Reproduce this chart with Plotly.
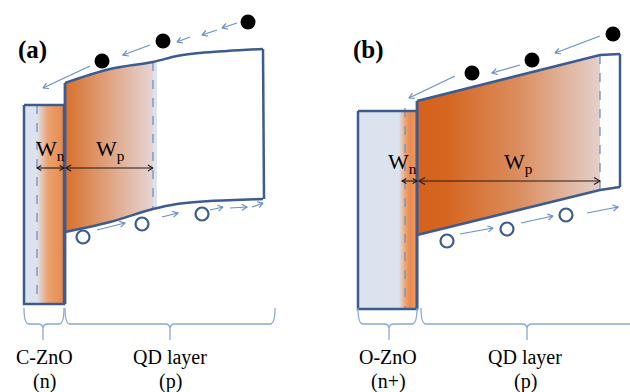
import numpy as np
import plotly.graph_objects as go

W, H = 630, 392

# ---------------- panel (a): C-ZnO (n) | QD layer (p) ----------------
a_tag = ("(a)", 32, 50)
a_zno_box = (24, 64, 105, 304)            # left, right, top, bottom
a_zno_depl_x = 37                          # depletion edge inside ZnO
a_cb_x = [65, 110, 153, 177, 200, 227, 263]
a_cb_y = [83, 69, 62, 56, 53, 51, 49]
a_vb_x = [65, 110, 153, 177, 210, 263]
a_vb_y = [232, 222, 209, 204, 201, 199]
a_right_x = 263
a_wp_x = 153                               # depletion edge inside QD layer
a_electrons_x = [102, 163, 248]
a_electrons_y = [61, 41, 22]
a_holes_x = [83, 142, 202]
a_holes_y = [237, 224, 214]
a_e_arrows = [(90, 66, 43, 88), (150, 45, 123, 55), (190, 37, 177, 42),
              (217, 30, 202, 35), (237, 23, 222, 28)]
a_h_arrows = [(97, 230, 125, 223), (162, 217, 178, 213), (210, 210, 223, 207),
              (230, 208, 247, 207), (252, 207, 263, 203)]
a_width_y = 168
a_braces = [(24, 64, 43), (65, 275, 170)]
a_labels = [("C-ZnO", 44, 357), ("(n)", 44, 381),
            ("QD layer", 170, 357), ("(p)", 170, 381)]
a_w_labels = [("W<sub>n</sub>", 50, 150), ("W<sub>p</sub>", 110, 150)]

# ---------------- panel (b): O-ZnO (n+) | QD layer (p) ----------------
b_tag = ("(b)", 368, 50)
b_zno_box = (358, 417, 111, 309)
b_zno_strip = (399, 417)
b_zno_depl_x = 405
b_cb_x = [417, 600, 620]
b_cb_y = [101, 55, 54]
b_vb_x = [417, 600, 620]
b_vb_y = [235, 190, 187]
b_right_x = 620
b_wp_x = 600
b_electrons_x = [472, 532, 613]
b_electrons_y = [73, 60, 34]
b_holes_x = [447, 507, 566]
b_holes_y = [241, 229, 215]
b_e_arrows = [(455, 76, 409, 98), (520, 65, 492, 73), (600, 36, 555, 53)]
b_h_arrows = [(460, 234, 493, 228), (521, 223, 553, 216), (587, 213, 618, 207)]
b_width_y = 181
b_braces = [(358, 417, 389), (421, 645, 527)]
b_labels = [("O-ZnO", 388, 357), ("(n+)", 388, 381),
            ("QD layer", 525, 357), ("(p)", 525, 381)]
b_w_labels = [("W<sub>n</sub>", 402, 163), ("W<sub>p</sub>", 518, 163)]

brace_y = (308, 324, 340)

EDGE = "#3d5b8f"
ARROW = "#6a8fcc"
DASH = "#7390c2"
PALE = "#dbe3ef"
BRACE = "#8ba7d6"
SERIF = "Liberation Serif, Times New Roman, serif"

fig = go.Figure()


def poly(xs, ys, color=None, gradient=None):
    kw = dict(x=list(xs) + [xs[0]], y=list(ys) + [ys[0]], mode="lines",
              fill="toself", line=dict(width=0), hoverinfo="skip")
    if gradient is not None:
        kw["fillgradient"] = dict(type="horizontal", colorscale=gradient)
    else:
        kw["fillcolor"] = color
    fig.add_trace(go.Scatter(**kw))


def line(xs, ys, color, width, dash=None, shape="linear"):
    fig.add_trace(go.Scatter(x=xs, y=ys, mode="lines", hoverinfo="skip",
                             line=dict(color=color, width=width, dash=dash,
                                       shape=shape, smoothing=1.0)))


def head(x0, y0, x1, y1, size=6.0, ang=np.radians(30)):
    d = np.arctan2(y0 - y1, x0 - x1)
    p1 = (x1 + size * np.cos(d + ang), y1 + size * np.sin(d + ang))
    p2 = (x1 + size * np.cos(d - ang), y1 + size * np.sin(d - ang))
    return [p1[0], x1, p2[0]], [p1[1], y1, p2[1]]


def arrows(items, color, width, both=False, size=6.0):
    xs, ys = [], []
    for x0, y0, x1, y1 in items:
        xs += [x0, x1, None]
        ys += [y0, y1, None]
        hx, hy = head(x0, y0, x1, y1, size)
        xs += hx + [None]
        ys += hy + [None]
        if both:
            hx, hy = head(x1, y1, x0, y0, size)
            xs += hx + [None]
            ys += hy + [None]
    line(xs, ys, color, width)


def brace(x0, x1, tip):
    yt, ym, yb = brace_y
    r = 5
    path = (f"M {x0},{yt} Q {x0},{ym} {x0 + r},{ym} L {tip - r},{ym} "
            f"Q {tip},{ym} {tip},{ym + r} L {tip},{yb} "
            f"M {tip},{ym + r} Q {tip},{ym} {tip + r},{ym} L {x1 - r},{ym} "
            f"Q {x1},{ym} {x1},{yt}")
    fig.add_shape(type="path", path=path, xref="x", yref="y",
                  line=dict(color=BRACE, width=1.3))


# ---------- panel (a) drawing ----------
zl, zr, zt, zb = a_zno_box
poly([zl, zr, zr, zl], [zt, zt, zb, zb], color=PALE)
poly([a_zno_depl_x, zr, zr, a_zno_depl_x], [zt, zt, zb, zb],
     gradient=[[0, "#dfe2ec"], [0.4, "#eba270"], [1, "#e8884b"]])

ctop = np.interp(a_wp_x, a_cb_x, a_cb_y)
cbot = np.interp(a_wp_x, a_vb_x, a_vb_y)
tx = [x for x in a_cb_x if x <= a_wp_x]
ty = a_cb_y[:len(tx)]
bx = [x for x in a_vb_x if x <= a_wp_x]
by = a_vb_y[:len(bx)]
poly(tx + bx[::-1], ty + by[::-1],
     gradient=[[0, "#d8702b"], [0.45, "#df9e78"], [1, "#e5d5d5"]])
sx = a_wp_x + 4
poly([a_wp_x, sx, sx, a_wp_x],
     [ctop, np.interp(sx, a_cb_x, a_cb_y), np.interp(sx, a_vb_x, a_vb_y), cbot],
     color=PALE)

line([a_zno_depl_x, a_zno_depl_x], [zt, zb], DASH, 1.3, dash="dash")
line([a_wp_x, a_wp_x], [ctop, cbot], DASH, 1.3, dash="dash")

line([zl, zr, zr, zl, zl], [zt, zt, zb, zb, zt], EDGE, 2.5)
line([a_cb_x[0], a_cb_x[0]], [zb, a_cb_y[0]], EDGE, 2.8)
line(a_cb_x, a_cb_y, EDGE, 2.5, shape="spline")
line(a_vb_x, a_vb_y, EDGE, 2.5, shape="spline")
line([a_right_x, a_right_x + 1], [a_cb_y[-1], a_vb_y[-1]], EDGE, 2.5)

arrows([(a_zno_depl_x, a_width_y, zr, a_width_y)], "#1a1a1a", 1.1, both=True, size=5)
arrows([(a_cb_x[0] + 1, a_width_y, a_wp_x, a_width_y)], "#1a1a1a", 1.1, both=True, size=6)
arrows(a_e_arrows, ARROW, 1.2)
arrows(a_h_arrows, ARROW, 1.2)

for x0, x1, tip in a_braces:
    brace(x0, x1, tip)

# ---------- panel (b) drawing ----------
zl, zr, zt, zb = b_zno_box
poly([zl, zr, zr, zl], [zt, zt, zb, zb], color=PALE)
s0, s1 = b_zno_strip
poly([s0, s1, s1, s0], [zt, zt, zb, zb],
     gradient=[[0, "#dbe2ec"], [0.35, "#f0a473"], [0.6, "#ea8a4f"], [1, "#ef9d68"]])

poly(b_cb_x[:2] + b_vb_x[:2][::-1], b_cb_y[:2] + b_vb_y[:2][::-1],
     gradient=[[0, "#d4621c"], [0.15, "#d5651f"], [0.55, "#db8d5e"], [1, "#e4d0cb"]])

line([b_zno_depl_x, b_zno_depl_x], [zt - 3, zb], DASH, 1.3, dash="dash")
line([b_wp_x, b_wp_x], [b_cb_y[1], b_vb_y[1]], DASH, 1.3, dash="dash")

line([zl, zr, zr, zl, zl], [zt, zt, zb, zb, zt], EDGE, 2.5)
line([b_cb_x[0], b_cb_x[0]], [zb, b_cb_y[0]], EDGE, 2.8)
line(b_cb_x, b_cb_y, EDGE, 2.5)
line(b_vb_x, b_vb_y, EDGE, 2.5)
line([b_right_x, b_right_x], [b_cb_y[-1], b_vb_y[-1]], EDGE, 2.5)

arrows([(s0 + 3, b_width_y, zr, b_width_y)], "#1a1a1a", 1.1, both=True, size=5)
arrows([(b_cb_x[0] + 2, b_width_y, b_wp_x, b_width_y)], "#2a1a12", 1.1, both=True, size=7)
arrows(b_e_arrows, ARROW, 1.2)
arrows(b_h_arrows, ARROW, 1.2)

for x0, x1, tip in b_braces:
    brace(x0, x1, tip)

# ---------- carriers ----------
fig.add_trace(go.Scatter(x=a_electrons_x + b_electrons_x,
                         y=a_electrons_y + b_electrons_y, mode="markers",
                         hoverinfo="skip",
                         marker=dict(size=15, color="#000000", line=dict(width=0))))
fig.add_trace(go.Scatter(x=a_holes_x + b_holes_x, y=a_holes_y + b_holes_y,
                         mode="markers", hoverinfo="skip",
                         marker=dict(size=13, color="white",
                                     line=dict(color=EDGE, width=2.2))))

# ---------- text ----------
for text, x, y in [a_tag, b_tag]:
    fig.add_annotation(x=x, y=y, text=f"<b>{text}</b>", showarrow=False,
                       font=dict(family=SERIF, size=25, color="#000"))
for text, x, y in a_labels + b_labels:
    fig.add_annotation(x=x, y=y, text=text, showarrow=False,
                       font=dict(family=SERIF, size=20, color="#000"))
for text, x, y in a_w_labels + b_w_labels:
    fig.add_annotation(x=x, y=y, text=text, showarrow=False,
                       font=dict(family=SERIF, size=22, color="#000"))

fig.update_layout(
    width=W, height=H, margin=dict(l=0, r=0, t=0, b=0),
    paper_bgcolor="white", plot_bgcolor="white", showlegend=False,
    xaxis=dict(range=[0, W], visible=False, fixedrange=True),
    yaxis=dict(range=[H, 0], visible=False, fixedrange=True),
)

fig.write_html("out.html")
